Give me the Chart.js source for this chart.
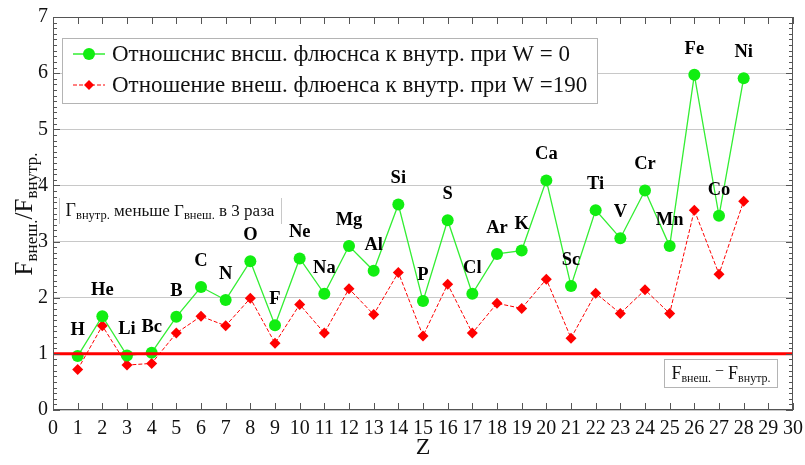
<!DOCTYPE html>
<html><head><meta charset="utf-8">
<script src="https://cdn.jsdelivr.net/npm/chart.js@4"></script>
<style>html,body{margin:0;padding:0;background:#fff}</style>
</head><body>
<canvas id="c" width="805" height="465" style="width:805px;height:465px;display:block"></canvas>
<script>
// ---- data ----
const Z = [1,2,3,4,5,6,7,8,9,10,11,12,13,14,15,16,17,18,19,20,21,22,23,24,25,26,27,28];
const elements = ['H','He','Li','Bc','B','C','N','O','F','Ne','Na','Mg','Al','Si','P','S','Cl','Ar','K','Ca','Sc','Ti','V','Cr','Mn','Fe','Co','Ni'];
const ratioW0 = [0.96,1.67,0.97,1.02,1.66,2.19,1.96,2.65,1.51,2.70,2.07,2.92,2.48,3.66,1.94,3.38,2.07,2.78,2.84,4.09,2.21,3.56,3.06,3.91,2.92,5.97,3.46,5.91];
const ratioW190 = [0.72,1.50,0.80,0.83,1.37,1.67,1.50,1.99,1.19,1.88,1.37,2.16,1.70,2.45,1.32,2.24,1.37,1.90,1.81,2.33,1.28,2.08,1.72,2.14,1.72,3.56,2.42,3.72];
const equalLineX = [0,30];
const equalLineY = [1,1];
const xTickLabels = ['0','1','2','3','4','5','6','7','8','9','10','11','12','13','14','15','16','17','18','19','20','21','22','23','24','25','26','27','28','29','30'];
const yTickLabels = ['0','1','2','3','4','5','6','7'];
const legendLabels = ['Отношснис внсш. флюснса к внутр. при W = 0','Отношение внеш. флюенса к внутр. при W =190'];

const SERIF = '"Liberation Serif","Times New Roman",serif';

function richWidth(ctx, parts){
  let w=0; for(const p of parts){ctx.font=p.f; w+=ctx.measureText(p.t).width;} return w;
}
function drawRich(ctx, parts, x, y, align){
  let w = richWidth(ctx, parts);
  let cx = align==='center' ? x - w/2 : x;
  ctx.textBaseline='alphabetic'; ctx.textAlign='left';
  for(const p of parts){ctx.font=p.f; ctx.fillText(p.t, cx, y+(p.dy||0)); cx+=ctx.measureText(p.t).width;}
}

const decor = {
  id:'decor',
  afterDatasetsDraw(chart){
    const ctx = chart.ctx, a = chart.chartArea;
    const xs = chart.scales.x, ys = chart.scales.y;
    ctx.save();
    // frame
    ctx.strokeStyle='#555'; ctx.lineWidth=1;
    ctx.strokeRect(a.left+0.5, a.top+0.5, a.right-a.left-1, a.bottom-a.top-1);
    // x ticks
    ctx.beginPath();
    for(let i=0;i<xTickLabels.length;i++){
      const px = Math.round(xs.getPixelForValue(Number(xTickLabels[i])))+0.5;
      ctx.moveTo(px,a.bottom); ctx.lineTo(px,a.bottom-7);
      ctx.moveTo(px,a.top); ctx.lineTo(px,a.top+7);
    }
    // y ticks major + minor
    for(let v=0; v<=70; v++){
      const py = Math.round(ys.getPixelForValue(v/10))+0.5;
      const len = (v%10===0)?7:4;
      ctx.moveTo(a.left,py); ctx.lineTo(a.left+len,py);
      ctx.moveTo(a.right,py); ctx.lineTo(a.right-len,py);
    }
    ctx.stroke();
    // tick labels
    ctx.fillStyle='#111';
    ctx.font='20px '+SERIF; ctx.textAlign='center'; ctx.textBaseline='middle';
    for(const t of xTickLabels){ ctx.fillText(t, xs.getPixelForValue(Number(t)), a.bottom+19); }
    ctx.textAlign='right';
    for(const t of yTickLabels){ ctx.fillText(t, a.left-5, ys.getPixelForValue(Number(t))); }
    // axis titles
    ctx.font='24px '+SERIF; ctx.textAlign='center'; ctx.textBaseline='middle';
    ctx.fillText('Z', (a.left+a.right)/2 , 448);
    ctx.save();
    ctx.translate(24, 214); ctx.rotate(-Math.PI/2);
    drawRich(ctx,[
      {t:'F',f:'25px '+SERIF},{t:'внеш.',f:'17px '+SERIF,dy:5},
      {t:'/F',f:'25px '+SERIF},{t:'внутр.',f:'17px '+SERIF,dy:5}
    ],0,8,'center');
    ctx.restore();
    // element labels
    const meta = chart.getDatasetMeta(0);
    ctx.font='bold 18.5px '+SERIF; ctx.textAlign='center'; ctx.textBaseline='middle'; ctx.fillStyle='#000';
    meta.data.forEach((pt,i)=>{ ctx.fillText(elements[i], pt.x, pt.y-26); });
    // legend box
    ctx.fillStyle='#fff'; ctx.fillRect(62,38,535,65);
    ctx.strokeStyle='#b4b4b4'; ctx.lineWidth=1; ctx.strokeRect(62.5,38.5,535,65);
    ctx.strokeStyle='#33ee33'; ctx.lineWidth=1.5;
    ctx.beginPath(); ctx.moveTo(73,54); ctx.lineTo(105,54); ctx.stroke();
    ctx.fillStyle='#11ee11'; ctx.beginPath(); ctx.arc(89,54,6,0,Math.PI*2); ctx.fill();
    ctx.strokeStyle='#ff0000'; ctx.lineWidth=1; ctx.setLineDash([4,2]);
    ctx.beginPath(); ctx.moveTo(73,85); ctx.lineTo(105,85); ctx.stroke(); ctx.setLineDash([]);
    ctx.fillStyle='#ff0000'; ctx.beginPath(); ctx.moveTo(89,80); ctx.lineTo(94,85); ctx.lineTo(89,90); ctx.lineTo(84,85); ctx.closePath(); ctx.fill();
    ctx.fillStyle='#111'; ctx.font='23px '+SERIF; ctx.textAlign='left'; ctx.textBaseline='middle';
    ctx.fillText(legendLabels[0], 112, 55);
    ctx.fillText(legendLabels[1], 112, 86);
    // annotation 1
    ctx.fillStyle='#fff'; ctx.fillRect(60,198,221,26);
    ctx.strokeStyle='#c8c8c8'; ctx.beginPath(); ctx.moveTo(59.5,198); ctx.lineTo(59.5,224); ctx.moveTo(281.5,198); ctx.lineTo(281.5,224); ctx.stroke();
    ctx.fillStyle='#111';
    drawRich(ctx,[
      {t:'Γ',f:'18px '+SERIF},{t:'внутр.',f:'12.5px '+SERIF,dy:3},
      {t:' меньше Γ',f:'17px '+SERIF},{t:'внеш.',f:'12.5px '+SERIF,dy:3},
      {t:' в 3 раза',f:'17px '+SERIF}
    ],170,216,'center');
    // annotation 2
    ctx.fillStyle='#fff'; ctx.fillRect(664,359,113,28);
    ctx.strokeStyle='#b4b4b4'; ctx.strokeRect(664.5,359.5,113,28);
    ctx.fillStyle='#111';
    drawRich(ctx,[
      {t:'F',f:'18px '+SERIF},{t:'внеш.',f:'12px '+SERIF,dy:3},
      {t:' − ',f:'16px '+SERIF,dy:-3},
      {t:'F',f:'18px '+SERIF},{t:'внутр.',f:'12px '+SERIF,dy:3}
    ],721,379,'center');
    ctx.restore();
  }
};

new Chart(document.getElementById('c'), {
  type:'scatter',
  data:{datasets:[
    {label:legendLabels[0], data:Z.map((z,i)=>({x:z,y:ratioW0[i]})), showLine:true,
     borderColor:'#33ee33', borderWidth:1.3, pointRadius:6, pointHoverRadius:6,
     pointBackgroundColor:'#11ee11', pointBorderWidth:0, order:2},
    {label:legendLabels[1], data:Z.map((z,i)=>({x:z,y:ratioW190[i]})), showLine:true,
     borderColor:'#ff0000', borderWidth:1, borderDash:[4,2], pointStyle:'rectRot', pointRadius:5.5, pointHoverRadius:5.5,
     pointBackgroundColor:'#ff0000', pointBorderWidth:0, order:3},
    {label:'eq', data:equalLineX.map((x,i)=>({x:x,y:equalLineY[i]})), showLine:true,
     borderColor:'#ff0000', borderWidth:3, pointRadius:0, order:1}
  ]},
  options:{
    responsive:false, animation:false, devicePixelRatio:1,
    layout:{padding:{left:53,right:12,top:17,bottom:55}},
    plugins:{legend:{display:false}, tooltip:{enabled:false}},
    scales:{
      x:{type:'linear', min:0, max:30, ticks:{display:false, stepSize:1}, grid:{display:false, drawTicks:false}, border:{display:false}},
      y:{type:'linear', min:0, max:7, ticks:{display:false, stepSize:1}, grid:{color:'#c8c8c8', drawTicks:false}, border:{display:false}}
    }
  },
  plugins:[decor]
});
</script>
</body></html>
